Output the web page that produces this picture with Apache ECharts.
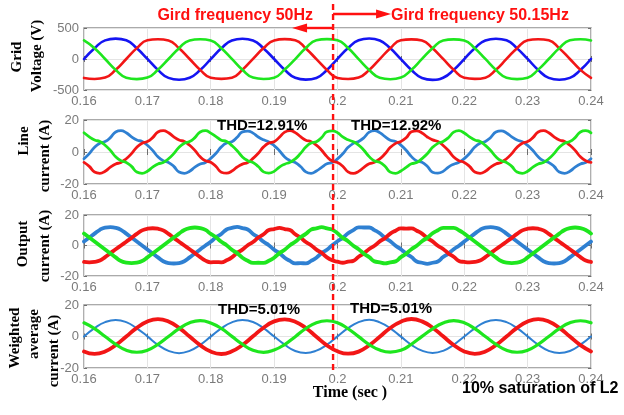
<!DOCTYPE html>
<html>
<head>
<meta charset="utf-8">
<script src="https://cdn.jsdelivr.net/npm/echarts@6.0.0/dist/echarts.min.js"></script>
<style>
  html, body { margin: 0; padding: 0; background: #ffffff; }
  #chart { width: 624px; height: 415px; }
</style>
</head>
<body>
<div id="chart"></div>
<script>
// Sample instants (s): 12 samples per 20 ms cycle
const t12 = [
  0.16, 0.161667, 0.163333, 0.165, 0.166667, 0.168333,
  0.17, 0.171667, 0.173333, 0.175, 0.176667, 0.178333,
  0.18, 0.181667, 0.183333, 0.185, 0.186667, 0.188333,
  0.19, 0.191667, 0.193333, 0.195, 0.196667, 0.198333,
  0.2, 0.201667, 0.203333, 0.205, 0.206667, 0.208333,
  0.21, 0.211667, 0.213333, 0.215, 0.216667, 0.218333,
  0.22, 0.221667, 0.223333, 0.225, 0.226667, 0.228333,
  0.23, 0.231667, 0.233333, 0.235, 0.236667, 0.238333,
  0.24
];
// Sample instants (s): 24 samples per 20 ms cycle
const t24 = [
  0.16, 0.160833, 0.161667, 0.1625, 0.163333, 0.164167, 0.165, 0.165833, 0.166667, 0.1675, 0.168333, 0.169167,
  0.17, 0.170833, 0.171667, 0.1725, 0.173333, 0.174167, 0.175, 0.175833, 0.176667, 0.1775, 0.178333, 0.179167,
  0.18, 0.180833, 0.181667, 0.1825, 0.183333, 0.184167, 0.185, 0.185833, 0.186667, 0.1875, 0.188333, 0.189167,
  0.19, 0.190833, 0.191667, 0.1925, 0.193333, 0.194167, 0.195, 0.195833, 0.196667, 0.1975, 0.198333, 0.199167,
  0.2, 0.200833, 0.201667, 0.2025, 0.203333, 0.204167, 0.205, 0.205833, 0.206667, 0.2075, 0.208333, 0.209167,
  0.21, 0.210833, 0.211667, 0.2125, 0.213333, 0.214167, 0.215, 0.215833, 0.216667, 0.2175, 0.218333, 0.219167,
  0.22, 0.220833, 0.221667, 0.2225, 0.223333, 0.224167, 0.225, 0.225833, 0.226667, 0.2275, 0.228333, 0.229167,
  0.23, 0.230833, 0.231667, 0.2325, 0.233333, 0.234167, 0.235, 0.235833, 0.236667, 0.2375, 0.238333, 0.239167,
  0.24
];

// Grid voltage (V)
const gridVoltA = [
  0, 175, 300, 328, 302, 172, 2, -175, -305, -335, -303, -178,
  -3, 172, 298, 326, 300, 170, 0, -174, -303, -333, -305, -176,
  2, 176, 301, 330, 299, 173, -2, -177, -306, -336, -302, -175,
  -1, 174, 299, 327, 301, 171, 1, -176, -304, -334, -304, -177,
  0
];
const gridVoltB = [
  -305, -322, -300, -175, 0, 175, 302, 318, 300, 172, 0, -175,
  -303, -320, -302, -173, 2, 176, 300, 320, 302, 170, -2, -176,
  -306, -323, -299, -176, -1, 174, 303, 317, 299, 173, 1, -174,
  -304, -321, -301, -174, 1, 175, 301, 319, 301, 171, 0, -175,
  -305
];
const gridVoltC = [
  300, 175, 0, -175, -302, -325, -300, -172, 0, 175, 300, 318,
  298, 173, 2, -174, -300, -323, -302, -170, -2, 176, 302, 320,
  301, 176, -1, -176, -303, -326, -299, -173, 1, 174, 299, 317,
  299, 174, 1, -175, -301, -324, -301, -171, 0, 175, 301, 319,
  300
];

// Line current (A)
const lineCurA = [
  -4.2, -1, 3, 5.5, 6.5, 9, 12.5, 13.3, 12, 9.5, 7.5, 6.5, 4.2, 1, -3, -5.5, -6.5, -9, -12.5, -13.3, -12, -9.5, -7.5, -6.5,
  -4.0, -0.8, 3.2, 5.6, 6.4, 9.2, 12.6, 13.1, 11.8, 9.4, 7.6, 6.3, 4.0, 0.8, -3.1, -5.4, -6.6, -9.1, -12.4, -13.4, -11.9, -9.6, -7.4, -6.6,
  -4.3, -1.1, 2.9, 5.4, 6.6, 8.9, 12.4, 13.4, 12.1, 9.6, 7.4, 6.6, 4.3, 1.1, -2.9, -5.6, -6.4, -8.9, -12.6, -13.2, -12.1, -9.4, -7.6, -6.4,
  -4.1, -0.9, 3.1, 5.5, 6.5, 9.1, 12.5, 13.2, 11.9, 9.5, 7.5, 6.4, 4.1, 0.9, -3.0, -5.5, -6.5, -9.0, -12.5, -13.3, -12.0, -9.5, -7.5, -6.5,
  -4.2
];
const lineCurB = [
  -6.5, -9, -12.5, -13.3, -12, -9.5, -7.5, -6.5, -4.2, -1, 3, 5.5, 6.5, 9, 12.5, 13.3, 12, 9.5, 7.5, 6.5, 4.2, 1, -3, -5.5,
  -6.4, -9.1, -12.6, -13.2, -11.9, -9.4, -7.6, -6.6, -4.0, -0.8, 3.2, 5.6, 6.4, 9.2, 12.4, 13.4, 12.1, 9.6, 7.4, 6.4, 4.3, 1.1, -2.9, -5.6,
  -6.6, -8.9, -12.4, -13.4, -12.1, -9.6, -7.4, -6.4, -4.3, -1.1, 2.9, 5.4, 6.6, 8.9, 12.6, 13.2, 11.9, 9.4, 7.6, 6.6, 4.1, 0.9, -3.1, -5.4,
  -6.5, -9.0, -12.5, -13.3, -12.0, -9.5, -7.5, -6.5, -4.2, -1.0, 3.0, 5.5, 6.5, 9.0, 12.5, 13.3, 12.0, 9.5, 7.5, 6.5, 4.2, 1.0, -3.0, -5.5,
  -6.5
];
const lineCurC = [
  12, 9.5, 7.5, 6.5, 4.2, 1, -3, -5.5, -6.5, -9, -12.5, -13.3, -12, -9.5, -7.5, -6.5, -4.2, -1, 3, 5.5, 6.5, 9, 12.5, 13.3,
  11.8, 9.6, 7.4, 6.6, 4.0, 0.8, -3.1, -5.4, -6.6, -9.1, -12.4, -13.2, -12.1, -9.4, -7.6, -6.4, -4.3, -0.9, 3.1, 5.6, 6.4, 9.1, 12.6, 13.2,
  12.1, 9.4, 7.6, 6.4, 4.3, 1.1, -2.9, -5.6, -6.4, -8.9, -12.6, -13.4, -11.9, -9.6, -7.4, -6.6, -4.1, -1.1, 2.9, 5.4, 6.6, 8.9, 12.4, 13.4,
  11.9, 9.5, 7.5, 6.5, 4.1, 0.9, -3.0, -5.5, -6.5, -9.0, -12.5, -13.3, -12.0, -9.5, -7.5, -6.5, -4.2, -1.0, 3.0, 5.5, 6.5, 9.0, 12.5, 13.3,
  12
];

// Output current (A)
const outCurA = [
  2.6, 5.2, 7.8, 10.3, 11.7, 12, 11.6, 10.3, 7.8, 5.2, 2.6, 0, -2.6, -5.2, -7.8, -10.3, -11.5, -11.8, -11.5, -10.3, -7.8, -5.2, -2.6, 0,
  2.4, 5.4, 7.6, 10.5, 11.5, 12.2, 11.4, 10.5, 7.6, 5.4, 2.4, 0.2, -2.8, -5.0, -8.0, -10.1, -11.7, -11.6, -11.7, -10.1, -8.0, -5.0, -2.8, 0.2,
  2.8, 5.0, 8.0, 10.1, 11.9, 11.8, 11.8, 10.1, 8.0, 5.0, 2.8, -0.2, -2.4, -5.4, -7.6, -10.5, -11.3, -12.0, -11.3, -10.5, -7.6, -5.4, -2.4, -0.2,
  2.6, 5.2, 7.8, 10.3, 11.7, 12.0, 11.6, 10.3, 7.8, 5.2, 2.6, 0, -2.6, -5.2, -7.8, -10.3, -11.5, -11.8, -11.5, -10.3, -7.8, -5.2, -2.6, 0,
  2.6
];
const outCurB = [
  -10.8, -11.1, -10.8, -9.9, -7.6, -5.0, -2.5, 0, 2.5, 5.0, 7.6, 9.9, 11.0, 11.3, 11.0, 9.9, 7.6, 5.0, 2.5, 0, -2.5, -5.0, -7.6, -9.9,
  -11.0, -10.9, -11.0, -9.7, -7.8, -4.8, -2.7, 0.2, 2.3, 5.2, 7.4, 10.1, 10.8, 11.5, 10.8, 10.1, 7.4, 5.2, 2.3, 0.2, -2.7, -4.8, -7.8, -9.7,
  -10.6, -11.3, -10.6, -10.1, -7.4, -5.2, -2.3, -0.2, 2.7, 4.8, 7.8, 9.7, 11.2, 11.1, 11.2, 9.7, 7.8, 4.8, 2.7, -0.2, -2.3, -5.2, -7.4, -10.1,
  -10.8, -11.1, -10.8, -9.9, -7.6, -5.0, -2.5, 0, 2.5, 5.0, 7.6, 9.9, 11.0, 11.3, 11.0, 9.9, 7.6, 5.0, 2.5, 0, -2.5, -5.0, -7.6, -9.9,
  -10.8
];
const outCurC = [
  7.8, 5.2, 2.6, 0, -2.6, -5.2, -7.8, -10.2, -11.2, -11.5, -11.2, -10.2, -7.8, -5.2, -2.6, 0, 2.6, 5.2, 7.8, 10.2, 11.4, 11.8, 11.4, 10.2,
  7.6, 5.4, 2.4, 0.2, -2.8, -5.0, -8.0, -10.0, -11.4, -11.3, -11.4, -10.0, -8.0, -5.0, -2.8, 0.2, 2.4, 5.4, 7.6, 10.4, 11.2, 12.0, 11.2, 10.4,
  8.0, 5.0, 2.8, -0.2, -2.4, -5.4, -7.6, -10.4, -11.0, -11.7, -11.0, -10.4, -7.6, -5.4, -2.4, -0.2, 2.8, 5.0, 8.0, 10.0, 11.6, 11.6, 11.6, 10.0,
  7.8, 5.2, 2.6, 0, -2.6, -5.2, -7.8, -10.2, -11.2, -11.5, -11.2, -10.2, -7.8, -5.2, -2.6, 0, 2.6, 5.2, 7.8, 10.2, 11.4, 11.8, 11.4, 10.2,
  7.8
];

// Weighted average current (A)
const avgCurA = [
  0, 5.3, 9.1, 10.5, 9.1, 5.2, 0.1, -5.3, -9.1, -10.6, -9.1, -5.3,
  -0.1, 5.2, 9.0, 10.4, 9.2, 5.3, 0, -5.2, -9.2, -10.5, -9.0, -5.2,
  0.1, 5.3, 9.1, 10.6, 9.0, 5.2, -0.1, -5.3, -9.0, -10.4, -9.1, -5.3,
  0, 5.2, 9.2, 10.5, 9.1, 5.3, 0.1, -5.2, -9.1, -10.5, -9.2, -5.2,
  0
];
const avgCurB = [
  -9.5, -11.0, -9.5, -5.5, 0, 5.5, 9.5, 11.0, 9.5, 5.5, 0, -5.5,
  -9.6, -11.1, -9.4, -5.4, 0.1, 5.6, 9.6, 10.9, 9.4, 5.4, -0.1, -5.6,
  -9.4, -10.9, -9.6, -5.6, -0.1, 5.4, 9.4, 11.1, 9.6, 5.6, 0.1, -5.4,
  -9.5, -11.0, -9.5, -5.5, 0, 5.5, 9.5, 11.0, 9.5, 5.5, 0, -5.5,
  -9.5
];
const avgCurC = [
  8.7, 5.0, 0, -5.0, -8.7, -10.0, -8.7, -5.0, 0, 5.0, 8.7, 10.1,
  8.6, 5.1, 0.1, -4.9, -8.8, -10.1, -8.6, -5.1, -0.1, 5.1, 8.8, 10.0,
  8.8, 4.9, -0.1, -5.1, -8.6, -9.9, -8.8, -4.9, 0.1, 4.9, 8.6, 10.1,
  8.7, 5.0, 0, -5.0, -8.7, -10.0, -8.7, -5.0, 0, 5.0, 8.7, 10.0,
  8.7
];

// Axis ranges and the instant the grid frequency steps
const timeMin = 0.16, timeMax = 0.24, timeStep = 0.01;
const voltRange = [-500, 500, 500];
const curRange = [-20, 20, 20];
const switchTime = 0.1993;

const SANS = '"Liberation Sans", Arial, sans-serif';
const SERIF = '"Liberation Serif", "Times New Roman", serif';
const BLUE_V = '#1515f2', BLUE_I = '#2f80d2', RED = '#f21616', GREEN = '#1ee61e';

const panels = [
  { top: 28, height: 62, range: voltRange, t: t12,
    lines: [[gridVoltA, BLUE_V, 2.6], [gridVoltB, RED, 2.6], [gridVoltC, GREEN, 2.6]] },
  { top: 120, height: 64, range: curRange, t: t24,
    lines: [[lineCurA, BLUE_I, 2.8], [lineCurB, RED, 2.8], [lineCurC, GREEN, 2.8]] },
  { top: 215, height: 61, range: curRange, t: t24,
    lines: [[outCurA, BLUE_I, 3.8], [outCurB, RED, 3.8], [outCurC, GREEN, 3.8]] },
  { top: 305, height: 63, range: curRange, t: t12,
    lines: [[avgCurA, BLUE_I, 2.0], [avgCurB, RED, 3.8], [avgCurC, GREEN, 3.2]] }
];

const tickColor = '#6e6e6e';
const labelStyle = { color: '#7a7a7a', fontFamily: SANS, fontSize: 13 };

const grid = [], xAxis = [], yAxis = [], series = [];
panels.forEach((p, i) => {
  grid.push({ left: 84, width: 507, top: p.top, height: p.height, show: true,
    borderColor: '#8e8e8e', borderWidth: 1.4, backgroundColor: 'transparent' });
  const xBase = { type: 'value', gridIndex: i, min: timeMin, max: timeMax, interval: timeStep,
    axisLine: { show: false },
    axisTick: { show: true, inside: true, length: 3, lineStyle: { color: tickColor } } };
  xAxis.push(Object.assign({}, xBase, { position: 'bottom',
    splitLine: { show: true, lineStyle: { color: '#e4e4e4', width: 1 } },
    axisLabel: Object.assign({ margin: 5, formatter: v => String(+v.toFixed(2)) }, labelStyle) }));
  xAxis.push(Object.assign({}, xBase, { position: 'top', splitLine: { show: false }, axisLabel: { show: false } }));
  const yBase = { type: 'value', gridIndex: i, min: p.range[0], max: p.range[1], interval: p.range[2],
    axisLine: { show: false },
    axisTick: { show: true, inside: true, length: 3, lineStyle: { color: tickColor } } };
  yAxis.push(Object.assign({}, yBase, { position: 'left',
    splitLine: { show: true, lineStyle: { color: '#e4e4e4', width: 1 } },
    axisLabel: Object.assign({ margin: 5 }, labelStyle) }));
  yAxis.push(Object.assign({}, yBase, { position: 'right', splitLine: { show: false }, axisLabel: { show: false } }));
  p.lines.forEach(([vals, color, w]) => {
    series.push({ type: 'line', xAxisIndex: 2 * i, yAxisIndex: 2 * i,
      data: p.t.map((t, k) => [t, vals[k]]),
      smooth: true, showSymbol: false, symbol: 'none', silent: true,
      lineStyle: { color, width: w, cap: 'round', join: 'round' } });
  });
});

const chart = echarts.init(document.getElementById('chart'), null, { renderer: 'canvas' });
chart.setOption({ animation: false, backgroundColor: '#ffffff', grid, xAxis, yAxis, series });

// Annotations anchored on the frequency-step instant
const sx = chart.convertToPixel({ xAxisIndex: 0 }, switchTime);
const boldSans = (size) => `bold ${size}px ${SANS}`;
const boldSerif = (size) => `bold ${size}px ${SERIF}`;
const txt = (text, x, y, font, color, align) => ({ type: 'text', x, y, silent: true, z: 100,
  style: { text, font, fill: color || '#000', align: align || 'left', verticalAlign: 'middle' } });
const vtxt = (text, x, y) => ({ type: 'text', x, y, rotation: Math.PI / 2, silent: true, z: 100,
  style: { text, font: boldSerif(15), fill: '#000', align: 'center', verticalAlign: 'middle' } });

const graphic = [
  { type: 'line', silent: true, z: 90, shape: { x1: sx, y1: 4, x2: sx, y2: 372 },
    style: { stroke: '#ff1010', lineWidth: 2.4, lineDash: [6, 4] } },
  // left-pointing arrow
  { type: 'line', silent: true, z: 90, shape: { x1: sx, y1: 28, x2: sx - 28, y2: 28 },
    style: { stroke: '#ff1010', lineWidth: 2.4 } },
  { type: 'polygon', silent: true, z: 90, shape: { points: [[sx - 26, 23.5], [sx - 41, 28], [sx - 26, 32.5]] },
    style: { fill: '#ff1010' } },
  // right-pointing arrow
  { type: 'line', silent: true, z: 90, shape: { x1: sx, y1: 14, x2: sx + 45, y2: 14 },
    style: { stroke: '#ff1010', lineWidth: 2.4 } },
  { type: 'polygon', silent: true, z: 90, shape: { points: [[sx + 43, 9.5], [sx + 58, 14], [sx + 43, 18.5]] },
    style: { fill: '#ff1010' } },
  txt('Gird frequency 50Hz', 313, 15.5, boldSans(16), '#ff1010', 'right'),
  txt('Gird frequency 50.15Hz', sx + 58, 16, boldSans(16), '#ff1010', 'left'),
  txt('THD=12.91%', 217, 126, boldSans(15)),
  txt('THD=12.92%', 351, 126, boldSans(15)),
  txt('THD=5.01%', 218, 310, boldSans(15)),
  txt('THD=5.01%', 350, 309, boldSans(15)),
  txt('Time (sec )', 350, 393, boldSerif(16), '#000', 'center'),
  txt('10% saturation of L2', 462, 389, boldSans(16)),
  vtxt('Grid', 17, 57), vtxt('Voltage (V)', 37, 56),
  vtxt('Line', 24, 141), vtxt('current (A)', 45, 156),
  vtxt('Output', 23.5, 244), vtxt('current (A)', 45, 246),
  vtxt('Weighted', 15, 338), vtxt('average', 34, 334), vtxt('current (A)', 54, 351)
];
chart.setOption({ graphic });
</script>
</body>
</html>
